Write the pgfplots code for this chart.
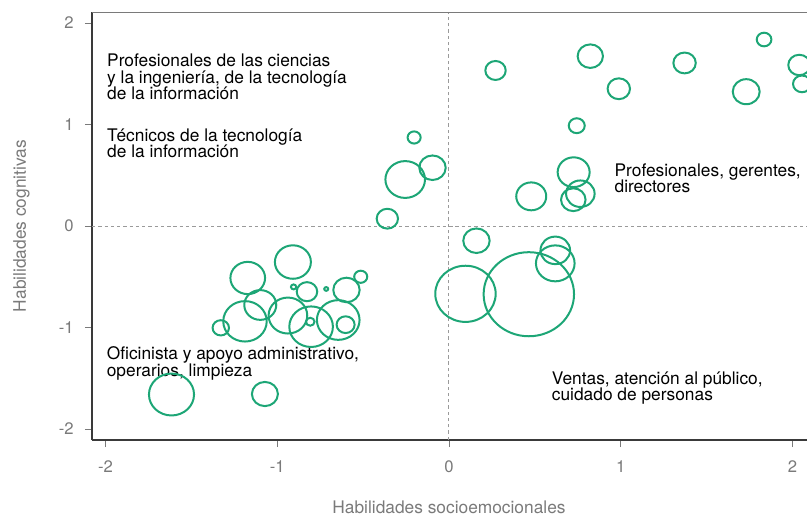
\documentclass[border=0pt]{standalone}
\usepackage{fontspec}
\setmainfont{TeX Gyre Heros}
\usepackage{pgfplots}
\pgfplotsset{compat=1.18}
\usepackage{xcolor}
\definecolor{bubble}{HTML}{1DA676}
\definecolor{tickGrey}{HTML}{7A7A7A}
\definecolor{axisDark}{HTML}{3A3A3A}
\definecolor{dashGrey}{HTML}{9A9A9A}

% bubbles: x, y, mark size (pt)
\pgfplotstableread{
x y s
-0.909 -0.355 13.5
-1.172 -0.512 13.0
-0.514 -0.500 4.9
-0.597 -0.630 9.9
-0.905 -0.600 2.0
-0.827 -0.647 7.7
-0.715 -0.620 1.5
-1.099 -0.778 12.0
-1.188 -0.939 16.3
-1.329 -1.003 6.15
-0.938 -0.882 14.5
-0.803 -0.992 16.35
-0.808 -0.943 3.2
-0.645 -0.926 16.0
-0.602 -0.972 6.75
-1.616 -1.660 16.9
-1.072 -1.655 9.75
-0.203 0.872 4.9
-0.255 0.458 14.85
-0.096 0.574 9.9
-0.359 0.072 8.0
0.160 -0.145 9.9
0.096 -0.668 22.65
0.465 -0.672 33.9
0.619 -0.240 11.1
0.619 -0.368 14.5
0.271 1.532 7.65
0.823 1.673 9.5
0.989 1.352 8.4
0.744 0.988 6.0
0.726 0.530 12.0
0.479 0.292 11.25
0.765 0.318 10.7
0.724 0.259 9.2
1.372 1.606 8.4
1.835 1.837 5.5
1.731 1.323 10.1
2.040 1.586 8.25
2.056 1.400 6.75
}\bubbles

\begin{document}
\begin{tikzpicture}
\useasboundingbox (-69pt,-56.25pt) rectangle (536.25pt,330pt);
\begin{axis}[
  scale only axis,
  width=536.25pt, height=321pt,
  xmin=-2.079, xmax=2.085,
  ymin=-2.108, ymax=2.108,
  axis x line*=bottom, axis y line*=left,
  axis line style={axisDark,line width=1pt},
  xtick={-2,-1,0,1,2}, ytick={-2,-1,0,1,2},
  tick align=outside,
  major tick length=5.25pt,
  tick style={tickGrey,line width=0.6pt},
  /pgf/number format/assume math mode=true,
  ticklabel style={font=\fontsize{12.5}{14}\selectfont,color=tickGrey},
  xticklabel style={yshift=-6.5pt},
  yticklabel style={xshift=-5pt},
  xlabel={Habilidades socioemocionales},
  ylabel={Habilidades cognitivas},
  label style={font=\fontsize{13}{15}\selectfont,color=tickGrey},
  xlabel style={at={(axis description cs:0.4993,-0.1565)},anchor=center},
  ylabel style={at={(axis description cs:-0.0986,0.5)},anchor=center,rotate=0},
  clip=true,
]
\draw[dashGrey,line width=0.75pt,dash pattern=on 2.5pt off 2.2pt] (axis cs:0,-2.108) -- (axis cs:0,2.108);
\draw[dashGrey,line width=0.75pt,dash pattern=on 2.5pt off 2.2pt] (axis cs:-2.079,0) -- (axis cs:2.085,0);
\draw[tickGrey,line width=1pt] (rel axis cs:0,1) -- (rel axis cs:1,1);

\addplot[scatter, only marks, mark=o,
  scatter/use mapped color={draw=bubble,fill=none},
  visualization depends on={\thisrow{s}\as\sz},
  scatter/@pre marker code/.append style={/tikz/mark size=\sz},
  mark options={line width=1.5pt,yscale=0.93}]
  table[x=x,y=y] {\bubbles};

\begin{scope}[every node/.style={anchor=base west,inner sep=0pt,font=\fontsize{13}{14}\selectfont,text=black}]
\node at (axis cs:-1.992,1.571) {Profesionales de las ciencias};
\node at (axis cs:-1.992,1.407) {y la ingeniería, de la tecnología};
\node at (axis cs:-1.992,1.242) {de la información};
\node at (axis cs:-1.992,0.837) {Técnicos de la tecnología};
\node at (axis cs:-1.992,0.677) {de la información};
\node at (axis cs:0.963,0.486) {Profesionales, gerentes,};
\node at (axis cs:0.963,0.328) {directores};
\node at (axis cs:-1.994,-1.313) {Oficinista y apoyo administrativo,};
\node at (axis cs:-1.994,-1.478) {operarios, limpieza};
\node at (axis cs:0.598,-1.557) {Ventas, atención al público,};
\node at (axis cs:0.598,-1.721) {cuidado de personas};
\end{scope}
\end{axis}
\end{tikzpicture}
\end{document}
